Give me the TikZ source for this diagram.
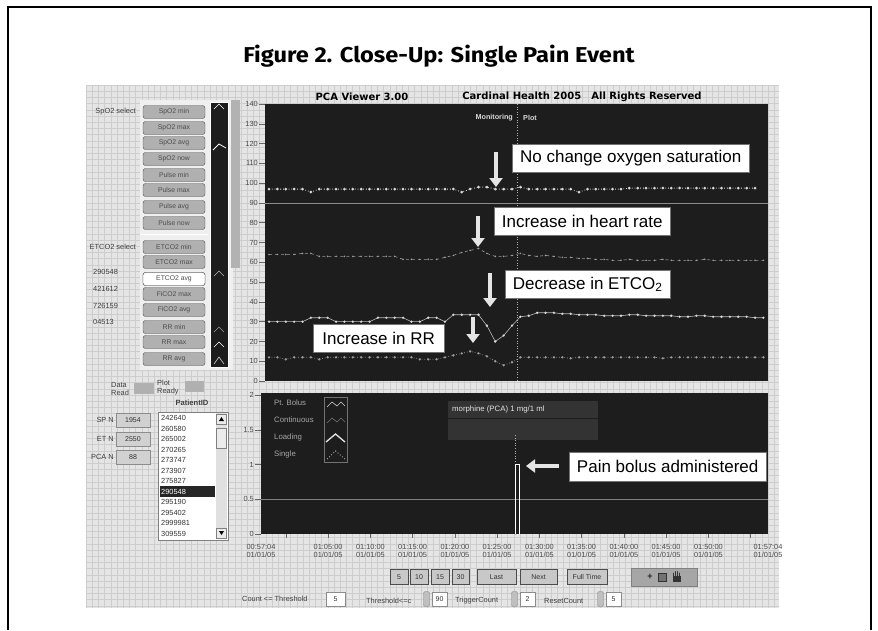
\documentclass[tikz,border=0pt]{standalone}
\usepackage{fontspec}
\setmainfont{Liberation Sans}
\newfontfamily\figfont{Fira Sans}
\newfontfamily\viewfont{DejaVu Sans}
\usetikzlibrary{arrows.meta}

\definecolor{panelbg}{HTML}{1D1D1D}
\definecolor{gridbg}{HTML}{E5E5E5}
\definecolor{gridln}{HTML}{CDCDCD}
\definecolor{btnbg}{HTML}{B0B0B0}
\definecolor{tracehi}{HTML}{D8D8D8}
\definecolor{tracelo}{HTML}{9C9C9C}

\newcommand{\yup}[1]{104+(140-#1)*1.979}
\newcommand{\ylo}[1]{534-#1*69.5}

\tikzset{
  callout/.style={draw=black!55, fill=white, inner sep=0, anchor=north west,
    font=\fontsize{17}{17}\selectfont},
  callarrow/.style={line width=4.6pt, white!90!black, -{Triangle[width=13pt,length=9pt]}},
  guitext/.style={inner sep=0, text=black!75, font=\fontsize{7.4}{8}\selectfont},
  axtext/.style={inner sep=0, text=black!70, font=\fontsize{7.4}{8}\selectfont},
  selbtn/.style={draw=black!70, fill=btnbg, rounded corners=2.5pt, minimum width=62pt,
    minimum height=13pt, inner sep=0, text=black!70, font=\fontsize{6.8}{7}\selectfont},
  tbtn/.style={draw=black!70, fill=btnbg!70!white, minimum height=15pt, inner sep=0,
    text=black!80, font=\fontsize{7}{7.5}\selectfont},
  valbox/.style={draw=black!45, fill=white, minimum height=14pt, inner sep=0,
    text=black!80, font=\fontsize{7}{7.5}\selectfont},
  spin/.style={draw=black!50, fill=black!25, rounded corners=2pt, minimum width=6pt,
    minimum height=15pt, inner sep=0},
  darktext/.style={inner sep=0, text=black!25, font=\fontsize{7.8}{8.5}\selectfont}
}

\begin{document}
\begin{tikzpicture}[x=1pt,y=-1pt]
\useasboundingbox (0,0) rectangle (878,630);
\fill[white] (0,0) rectangle (878,630);

\draw[line width=1.6pt] (8,630) -- (8,7) -- (871,7) -- (871,630);
\node[font=\figfont\bfseries\fontsize{21.5}{21.5}\selectfont] (title) at (439,56) {\scalebox{1.1}[1]{Figure 2. Close-Up: Single Pain Event}};

\fill[gridbg] (86,85) rectangle (779,608);
\foreach \gx in {86,92.2,...,779}
  \draw[gridln, line width=0.35pt] (\gx,85) -- (\gx,608);
\foreach \gy in {85,91.2,...,608}
  \draw[gridln, line width=0.35pt] (86,\gy) -- (779,\gy);

\node[font=\viewfont\bfseries\fontsize{10}{10}\selectfont] (hdrname) at (362,97) {PCA Viewer 3.00};
\node[font=\viewfont\bfseries\fontsize{10}{10}\selectfont] (hdrcopy) at (582,97) {Cardinal Health 2005\quad All Rights Reserved};

% left selector panel
\fill[gridbg!60!white] (140,100) rectangle (233,370);
\draw[white, line width=1pt] (140,234) -- (208,234);
\node[fill=panelbg, draw=white, line width=0.8pt, minimum width=18pt, minimum height=265pt, inner sep=0, anchor=north west] (strip) at (210,102) {};
\fill[black!30] (231,100) rectangle (240,268);
\draw[white, line width=0.6pt] (214,109) -- (219,104) -- (224,109);
\draw[white, line width=0.8pt] (213,150) -- (219,144) -- (226,148);
\draw[white!70!black, line width=0.5pt] (214,276) -- (219,271) -- (224,276);
\draw[white!60!black, line width=0.5pt] (214,332) -- (219,327) -- (224,332);
\draw[white, line width=0.6pt] (214,347) -- (219,342) -- (224,347);
\draw[white!80!black, line width=0.6pt] (214,364) -- (219,357) -- (224,364);

\node[guitext, anchor=east] (spsel) at (136,112) {SpO2 select};
\node[guitext, anchor=east] (etsel) at (136,247) {ETCO2 select};
\foreach \num/\yy [count=\k] in {290548/272,421612/289,726159/306,04513/322}
  \node[guitext, anchor=west] (num\k) at (93,\yy) {\num};

\foreach \lbl/\yy [count=\k] in {SpO2 min/112,SpO2 max/128,SpO2 avg/143,SpO2 now/159,
    Pulse min/175,Pulse max/190,Pulse avg/207,Pulse now/223,
    ETCO2 min/247,ETCO2 max/262,ETCO2 avg/279,FiCO2 max/294,FiCO2 avg/310,
    RR min/327,RR max/342,RR avg/359}
  \node[selbtn] (sel\k) at (174,\yy) {\lbl};
\node[selbtn, fill=white] (sel11) at (174,279) {ETCO2 avg};

% status and patient list
\node[guitext, align=left, anchor=west] (dataread) at (111,389) {Data\\Read};
\node[fill=btnbg, draw=black!30, minimum width=19pt, minimum height=10pt, inner sep=0] (dataled) at (143.5,388) {};
\node[guitext, align=left, anchor=west] (plotready) at (157,388) {Plot\\Ready};
\node[fill=btnbg, draw=black!30, minimum width=18pt, minimum height=10pt, inner sep=0] (plotled) at (194,386.5) {};
\node[guitext, font=\bfseries\fontsize{7.6}{8}\selectfont] (pidhead) at (192,403) {PatientID};

\foreach \lbl/\val/\yy [count=\k] in {SP N/1954/420,ET N/2550/439,PCA N/88/457}{
  \node[guitext, anchor=east] (nlbl\k) at (114,\yy) {\lbl};
  \node[valbox, fill=black!18, minimum width=34pt] (nval\k) at (133,\yy) {\val};
}

\node[draw=black!50, fill=white, minimum width=70pt, minimum height=128pt, inner sep=0, anchor=north west] (plist) at (158,412) {};
\fill[black!85] (160,486) rectangle (215,496.5);
\foreach \pid [count=\k from 0] in {242640,260580,265002,270265,273747,273907,275827,290548,295190,295402,2999981,309559}{
  \ifnum\k=7 \def\pc{white}\else\def\pc{black!80}\fi
  \node[guitext, text=\pc, anchor=west] (pid\k) at (161,{418+10.5*\k}) {\pid};
}
\fill[black!12] (216,413) rectangle (227,539);
\node[draw=black!50, fill=black!8, minimum width=10pt, minimum height=10pt, inner sep=0] (scrup) at (221.5,419) {};
\node[draw=black!50, fill=black!8, minimum width=10pt, minimum height=10pt, inner sep=0] (scrdn) at (221.5,533) {};
\node[draw=black!50, fill=black!8, minimum width=10pt, minimum height=20pt, inner sep=0] (scrthumb) at (221.5,438) {};
\fill[black] (219,421) -- (224,421) -- (221.5,417) -- cycle;
\fill[black] (219,531) -- (224,531) -- (221.5,535) -- cycle;

% upper trend panel
\node[fill=panelbg, minimum width=503pt, minimum height=277pt, inner sep=0, anchor=north west] (upper) at (265,104) {};
\foreach \v in {0,10,...,140}{
  \node[axtext, anchor=east] (ya\v) at (258,{\yup{\v}}) {\v};
  \draw[black!60, line width=0.5pt] (259,{\yup{\v}}) -- (265,{\yup{\v}});
}
\draw[black!45, line width=0.8pt] (265,{\yup{90}}) -- (768,{\yup{90}});
\draw[white!70!black, dotted, line width=0.6pt] (517,104) -- (517,381);
\node[darktext, text=black!15, font=\bfseries\fontsize{7.2}{8}\selectfont, anchor=east] (monlbl) at (513,118) {Monitoring};
\node[darktext, text=black!15, font=\bfseries\fontsize{7.2}{8}\selectfont, anchor=west] (plotlbl) at (523,118) {Plot};

\def\spolist{97,97,97,97,97,95.5,97,97,97,97,97,97,97,97,97,97,97,97,97,97,97,97,97,95.5,97,98,98,97,97,97,98,97,97,97,97,97,97,95.5,97,97,97,97,97,97.5,97.5,97.5,97.5,97.5,97.5,97.5,97.5,97.5,97.5,97.5,97.5,97.5,97.5,97.5,97.5}
\def\hrlist{64,64,64,64,64.5,64.5,63,63,63,63,63,63,63,63,63,63,61.5,61.5,61.5,61.5,61.5,62.5,63.5,65,66,67,64.5,63,63,63.5,64.5,63.5,63,63.5,63,62.5,62.5,62,62,61.5,61.5,61,61,61.5,61,61,61,61.5,61,61,61,61,61.5,61,61,61,61,61,61,61}
\def\etlist{30,30,30,30,30,32,32,32,30,30,30,30,30,32,32,32,32,30,30,32,32,30,33.5,33.5,33.5,33.5,28,20,23,28,32.5,33,34.5,34.5,34.5,34,34,33.5,33.5,33.5,33,33,33,33.5,33.5,33,33,33,33,32.5,32.5,33,33,32.5,32.5,32.5,32.5,32.5,32,32}
\def\rrlist{12,12,11,12,12,12,11,12,12,12,12,12,12,12,12,12,12,12,11,11,11,12,13,14,15,14,12.5,10,8,9.5,12,12,12,12,12,12,11.5,12,12,12,12,12,12,12,12,12,12,11.5,12,12,12,12,12,12,12,12,12,12,12,12}

\draw[tracehi, dotted, line width=0.8pt] (269,{\yup{97}}) \foreach \v [count=\i from 0] in \spolist { -- ({269+8.38*\i},{\yup{\v}}) };
\foreach \v [count=\i from 0] in \spolist \fill[tracehi] ({269+8.38*\i},{\yup{\v}}) circle (1.5pt);
\draw[tracelo, dashed, line width=0.6pt] (269,{\yup{64}}) \foreach \v [count=\i from 0] in \hrlist { -- ({269+8.38*\i},{\yup{\v}}) };
\foreach \v [count=\i from 0] in \hrlist \fill[tracelo] ({269+8.38*\i},{\yup{\v}}) circle (0.9pt);
\draw[tracehi!85!black, line width=0.6pt] (269,{\yup{30}}) \foreach \v [count=\i from 0] in \etlist { -- ({269+8.38*\i},{\yup{\v}}) };
\foreach \v [count=\i from 0] in \etlist \fill[tracehi] ({269+8.38*\i},{\yup{\v}}) circle (1.3pt);
\draw[tracelo, dotted, line width=0.7pt] (269,{\yup{12}}) \foreach \v [count=\i from 0] in \rrlist { -- ({269+8.38*\i},{\yup{\v}}) };
\foreach \v [count=\i from 0] in \rrlist \fill[tracelo] ({269+8.38*\i},{\yup{\v}}) circle (1.3pt);

% lower dose panel
\node[fill=panelbg, minimum width=507pt, minimum height=141pt, inner sep=0, anchor=north west] (lower) at (261,393) {};
\foreach \v/\nm in {0/0,0.5/05,1/1,1.5/15,2/2}{
  \node[axtext, anchor=east] (yb\nm) at (254,{\ylo{\v}}) {\v};
  \draw[black!60, line width=0.5pt] (255,{\ylo{\v}}) -- (261,{\ylo{\v}});
}
\draw[black!50, line width=0.6pt] (261,{\ylo{0.5}}) -- (768,{\ylo{0.5}});
\foreach \lbl/\yy [count=\k] in {Pt. Bolus/403,Continuous/420,Loading/437,Single/454}
  \node[darktext, text=black!35, anchor=west] (leg\k) at (274,\yy) {\lbl};
\node[draw=black!55, minimum width=23pt, minimum height=65pt, inner sep=0, anchor=north west] (legbox) at (324,397) {};
\draw[black!20, line width=0.6pt] (327,407) -- (332,402) -- (337,406) -- (341,402) -- (345,406);
\draw[black!55, line width=0.6pt] (327,423) -- (332,418) -- (337,422) -- (341,418) -- (345,422);
\draw[black!10, line width=1.3pt] (326,442) -- (335.5,434) -- (345,442);
\draw[black!35, dotted, line width=0.9pt] (327,459) -- (335.5,451) -- (345,459);
\node[fill=black!80, minimum width=150pt, minimum height=39pt, inner sep=0, anchor=north west] (drugbox) at (448,401) {};
\draw[panelbg, line width=0.8pt] (448,418) -- (598,418);
\node[darktext, text=black!10, anchor=west] (drug) at (452,409) {morphine (PCA) 1 mg/1 ml};
\draw[white!70!black, dotted, line width=0.6pt] (515,435) -- (515,534);
\draw[white, line width=0.8pt] (515.5,534) -- (515.5,{\ylo{1}}) -- (519.5,{\ylo{1}}) -- (519.5,534);

% time axis
\foreach \m in {1,...,12}
  \draw[black!60, line width=0.5pt] ({261+(2.933+5*(\m-1))*8.45},534) -- ({261+(2.933+5*(\m-1))*8.45},538);
\foreach \t/\xx [count=\k] in {00:57:04/261,01:05:00/328.1,01:10:00/370.4,01:15:00/412.6,01:20:00/454.9,01:25:00/497.1,01:30:00/539.4,01:35:00/581.6,01:40:00/623.9,01:45:00/666.1,01:50:00/708.4,01:57:04/768}
  \node[axtext, align=center, font=\fontsize{7.4}{8.6}\selectfont] (tx\k) at (\xx,551) {\t\\01/01/05};

% callouts
\node[callout, minimum width=237pt, minimum height=28pt] (cspo) at (512,144) {No change oxygen saturation};
\node[callout, minimum width=176pt, minimum height=28pt] (chr) at (494,207) {Increase in heart rate};
\node[callout, minimum width=165pt, minimum height=28pt] (cet) at (505,270) {Decrease in ETCO\textsubscript{2}};
\node[callout, minimum width=131pt, minimum height=28pt] (crr) at (313,324) {Increase in RR};
\node[callout, minimum width=197pt, minimum height=29pt] (cpain) at (569,452) {Pain bolus administered};

\coordinate (aspo) at (496,152);
\coordinate (tspo) at (496,187);
\coordinate (ahr) at (478,216);
\coordinate (thr) at (478,247);
\coordinate (aet) at (490,273);
\coordinate (tet) at (490,307);
\coordinate (arr) at (473,317);
\coordinate (trr) at (473,343);
\coordinate (apain) at (559,466);
\coordinate (tpain) at (526,466);
\draw[callarrow] (aspo) -- (tspo);
\draw[callarrow] (ahr) -- (thr);
\draw[callarrow] (aet) -- (tet);
\draw[callarrow] (arr) -- (trr);
\draw[callarrow] (apain) -- (tpain);

% navigation buttons
\node[tbtn, minimum width=18pt] (b5) at (399,577) {5};
\node[tbtn, minimum width=18pt] (b10) at (419,577) {10};
\node[tbtn, minimum width=18pt] (b15) at (440,577) {15};
\node[tbtn, minimum width=17pt] (b30) at (460.5,577) {30};
\node[tbtn, minimum width=39pt] (blast) at (496.5,577) {Last};
\node[tbtn, minimum width=37pt] (bnext) at (538.5,577) {Next};
\node[tbtn, minimum width=40pt] (bfull) at (587,577) {Full Time};
\node[draw=black!50, fill=black!35, minimum width=66pt, minimum height=18pt, inner sep=0] (tools) at (664,577) {};
\node[inner sep=0, font=\bfseries\fontsize{9}{9}\selectfont, text=black!85] (toolplus) at (650,577) {+};
\node[draw=black!80, fill=black!55, minimum width=8pt, minimum height=8pt, inner sep=0] (toolzoom) at (662,577) {};
\fill[black!80] (672.5,576) rectangle (680.5,582);
\draw[black!80, line width=1pt, line cap=round] (673.5,576) -- (673.5,573) (675.5,576) -- (675.5,571.5) (677.5,576) -- (677.5,571.5) (679.5,576) -- (679.5,573);

% threshold row
\node[guitext, anchor=west] (cntlbl) at (242,599) {Count <= Threshold};
\node[valbox, minimum width=19pt] (cntval) at (335.5,599) {5};
\node[guitext, anchor=west] (thrlbl) at (366,601) {Threshold<=c};
\node[spin] (thrspin) at (426.5,599) {};
\node[valbox, minimum width=15pt] (thrval) at (439.5,599) {90};
\node[guitext, anchor=west] (trglbl) at (455,601) {TriggerCount};
\node[spin] (trgspin) at (514.5,599) {};
\node[valbox, minimum width=15pt] (trgval) at (527.5,599) {2};
\node[guitext, anchor=west] (rstlbl) at (544,601) {ResetCount};
\node[spin] (rstspin) at (600.5,599) {};
\node[valbox, minimum width=15pt] (rstval) at (613.5,599) {5};

\end{tikzpicture}
\end{document}
